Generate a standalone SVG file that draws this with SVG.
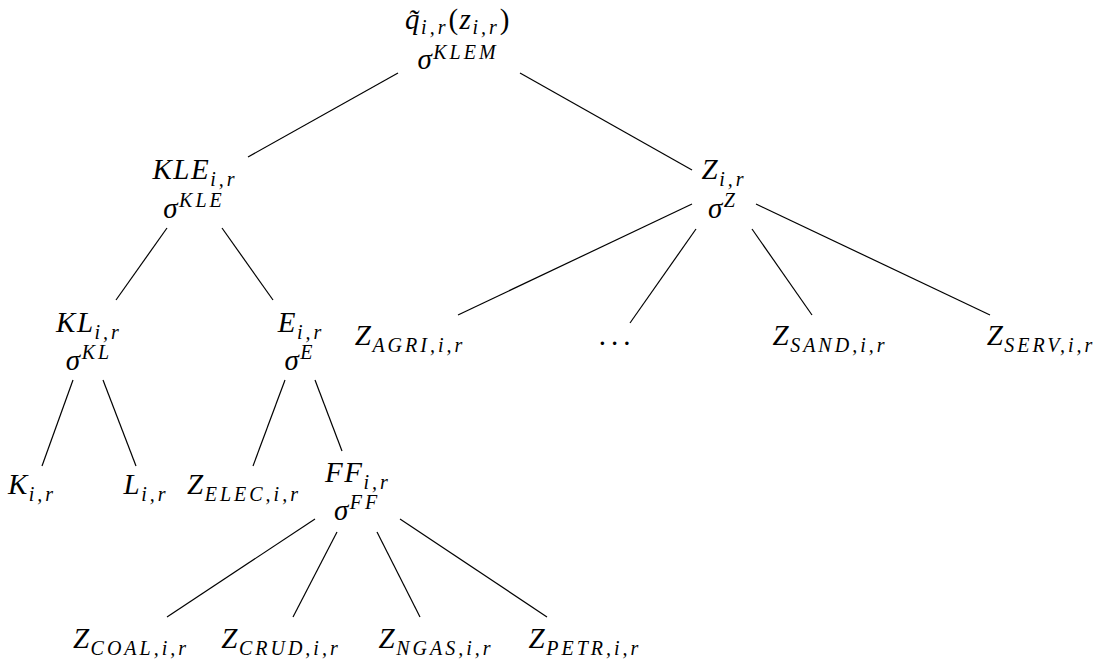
<svg xmlns="http://www.w3.org/2000/svg" width="1102" height="659" viewBox="0 0 1102 659">
<style>
text { font-family: "Liberation Serif", "DejaVu Serif", serif; font-style: italic; font-size: 29px; fill: #000; text-anchor: middle; letter-spacing: 1.5px; }
.sb, .sp { font-size: 20px; letter-spacing: 3px; }
.up { font-style: normal; }
#connectors line { stroke: #000; stroke-width: 1.2; }
</style>
<rect width="1102" height="659" fill="#fff"/>
<g id="connectors">
<line x1="398" y1="73" x2="248" y2="157"/>
<line x1="520" y1="73" x2="692" y2="170"/>
<line x1="167" y1="228" x2="116" y2="300"/>
<line x1="222" y1="228" x2="273" y2="300"/>
<line x1="692" y1="204" x2="458" y2="315"/>
<line x1="696" y1="229" x2="630" y2="323"/>
<line x1="752" y1="229" x2="812" y2="315"/>
<line x1="756" y1="204" x2="990" y2="315"/>
<line x1="73" y1="380" x2="42" y2="466"/>
<line x1="103" y1="380" x2="136" y2="466"/>
<line x1="285" y1="380" x2="253" y2="466"/>
<line x1="315" y1="380" x2="342" y2="451"/>
<line x1="315" y1="519" x2="167" y2="617"/>
<line x1="337" y1="532" x2="293" y2="617"/>
<line x1="377" y1="532" x2="420" y2="617"/>
<line x1="400" y1="519" x2="547" y2="617"/>
</g>
<g id="root">
<text x="458" y="29">q̃<tspan class="sb" dy="5">i,r</tspan><tspan class="up" dy="-5">(</tspan>z<tspan class="sb" dy="5">i,r</tspan><tspan class="up" dy="-5">)</tspan></text>
<text x="458" y="69">σ<tspan class="sp" dy="-10">KLEM</tspan></text>
</g>
<g id="node-kle">
<text x="195" y="179">KLE<tspan class="sb" dy="7">i,r</tspan></text>
<text x="194" y="218">σ<tspan class="sp" dy="-11">KLE</tspan></text>
</g>
<g id="node-z">
<text x="724" y="179">Z<tspan class="sb" dy="7">i,r</tspan></text>
<text x="723" y="218">σ<tspan class="sp" dy="-11">Z</tspan></text>
</g>
<g id="node-kl">
<text x="89" y="332">KL<tspan class="sb" dy="7">i,r</tspan></text>
<text x="89" y="370">σ<tspan class="sp" dy="-11">KL</tspan></text>
</g>
<g id="node-e">
<text x="301" y="332">E<tspan class="sb" dy="7">i,r</tspan></text>
<text x="300" y="370">σ<tspan class="sp" dy="-11">E</tspan></text>
</g>
<g id="node-agri">
<text x="410" y="345">Z<tspan class="sb" dy="7">AGRI,i,r</tspan></text>
</g>
<g id="node-dots">
<text x="617" y="345" class="up" style="letter-spacing:5px">...</text>
</g>
<g id="node-sand">
<text x="830" y="345">Z<tspan class="sb" dy="7">SAND,i,r</tspan></text>
</g>
<g id="node-serv">
<text x="1041" y="345">Z<tspan class="sb" dy="7">SERV,i,r</tspan></text>
</g>
<g id="node-k">
<text x="32" y="494">K<tspan class="sb" dy="7">i,r</tspan></text>
</g>
<g id="node-l">
<text x="146" y="494">L<tspan class="sb" dy="7">i,r</tspan></text>
</g>
<g id="node-elec">
<text x="244" y="494">Z<tspan class="sb" dy="7">ELEC,i,r</tspan></text>
</g>
<g id="node-ff">
<text x="358" y="482">FF<tspan class="sb" dy="7">i,r</tspan></text>
<text x="357" y="520">σ<tspan class="sp" dy="-11">FF</tspan></text>
</g>
<g id="node-coal">
<text x="131" y="648">Z<tspan class="sb" dy="7">COAL,i,r</tspan></text>
</g>
<g id="node-crud">
<text x="281" y="648">Z<tspan class="sb" dy="7">CRUD,i,r</tspan></text>
</g>
<g id="node-ngas">
<text x="436" y="648">Z<tspan class="sb" dy="7">NGAS,i,r</tspan></text>
</g>
<g id="node-petr">
<text x="585" y="648">Z<tspan class="sb" dy="7">PETR,i,r</tspan></text>
</g>
</svg>
